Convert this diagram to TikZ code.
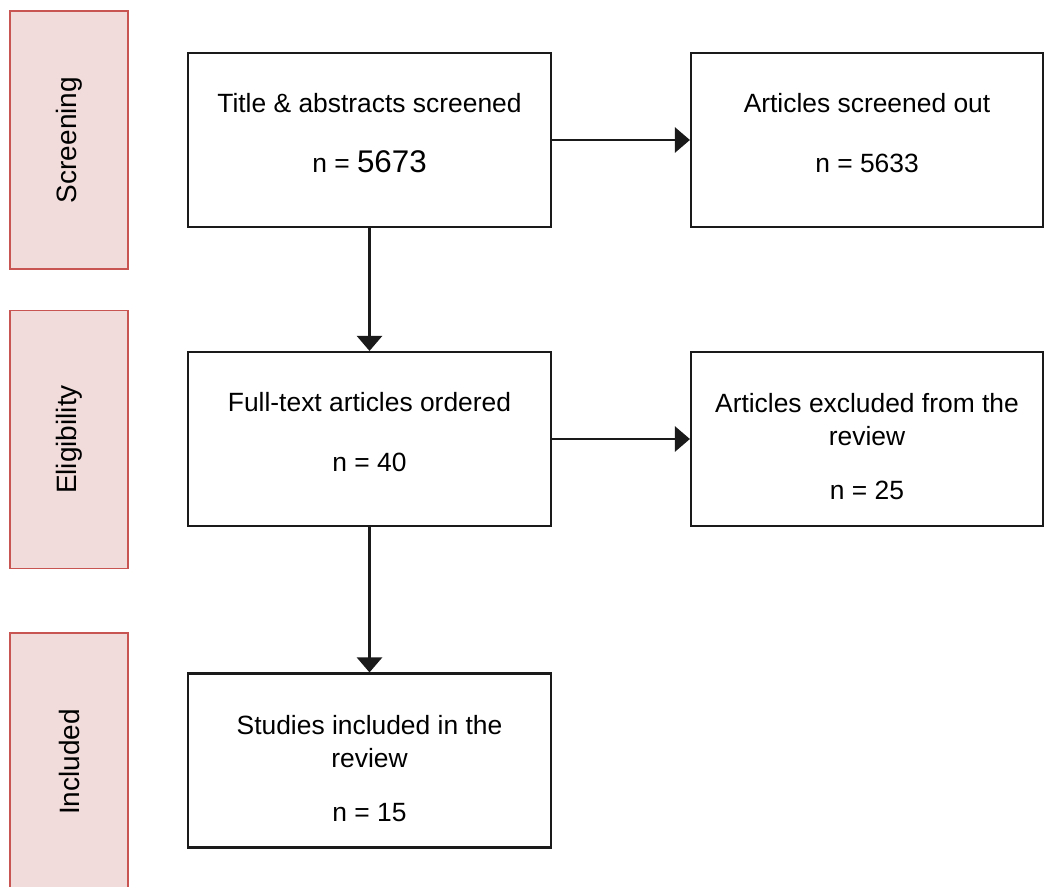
\documentclass[tikz,border=0pt]{standalone}
\usepackage{fontspec}
\setmainfont{Liberation Sans}
\usetikzlibrary{arrows.meta}
\definecolor{phasefill}{RGB}{242,220,219}
\definecolor{phaseline}{RGB}{200,85,82}
\definecolor{ink}{RGB}{26,26,26}

\begin{document}
\begin{tikzpicture}[x=0.75pt, y=-0.75pt,
  phase/.style={draw=phaseline, fill=phasefill, line width=1.1pt, rotate=90,
    minimum width=193.5pt, minimum height=88.5pt, inner sep=0pt,
    font=\fontsize{21}{25}\selectfont},
  record/.style={draw=ink, line width=1.6pt, minimum width=272.25pt,
    minimum height=130.5pt, inner sep=0pt, align=center,
    font=\fontsize{19.8}{24.75}\selectfont},
  sidebox/.style={record, minimum width=264pt},
  flow/.style={draw=ink, line width=1.9pt, -{Triangle[length=11.25pt, width=18.75pt]}}]
\useasboundingbox (0,0) rectangle (1044,887);
% stages
\node[phase] (screening)   at (69,140)   {Screening};
\node[phase] (eligibility) at (69,439.5) {Eligibility};
\node[phase] (included)    at (69,762)   {Included};
% records
\node[record]  (titles)   at (369.5,140) {Title \& abstracts screened\\[20pt]n = {\fontsize{23.5}{24.75}\selectfont 5673}\rule[-11pt]{0pt}{0pt}};
\node[sidebox] (outscr)   at (867,140)   {Articles screened out\\[20pt]n = 5633\rule[-11pt]{0pt}{0pt}};
\node[record]  (fulltext) at (369.5,439) {Full-text articles ordered\\[20pt]n = 40\rule[-11pt]{0pt}{0pt}};
\node[sidebox] (excluded) at (867,439)   {\rule{0pt}{26pt}Articles excluded from the\\review\\[16pt]n = 25};
\node[record]  (studies)  at (369.5,760.5) {\rule{0pt}{26pt}Studies included in the\\review\\[16pt]n = 15};
% connectors
\draw[flow] (titles) -- (outscr);
\draw[flow] (titles) -- (fulltext);
\draw[flow] (fulltext) -- (excluded);
\draw[flow] (fulltext) -- (studies);
\end{tikzpicture}
\end{document}
